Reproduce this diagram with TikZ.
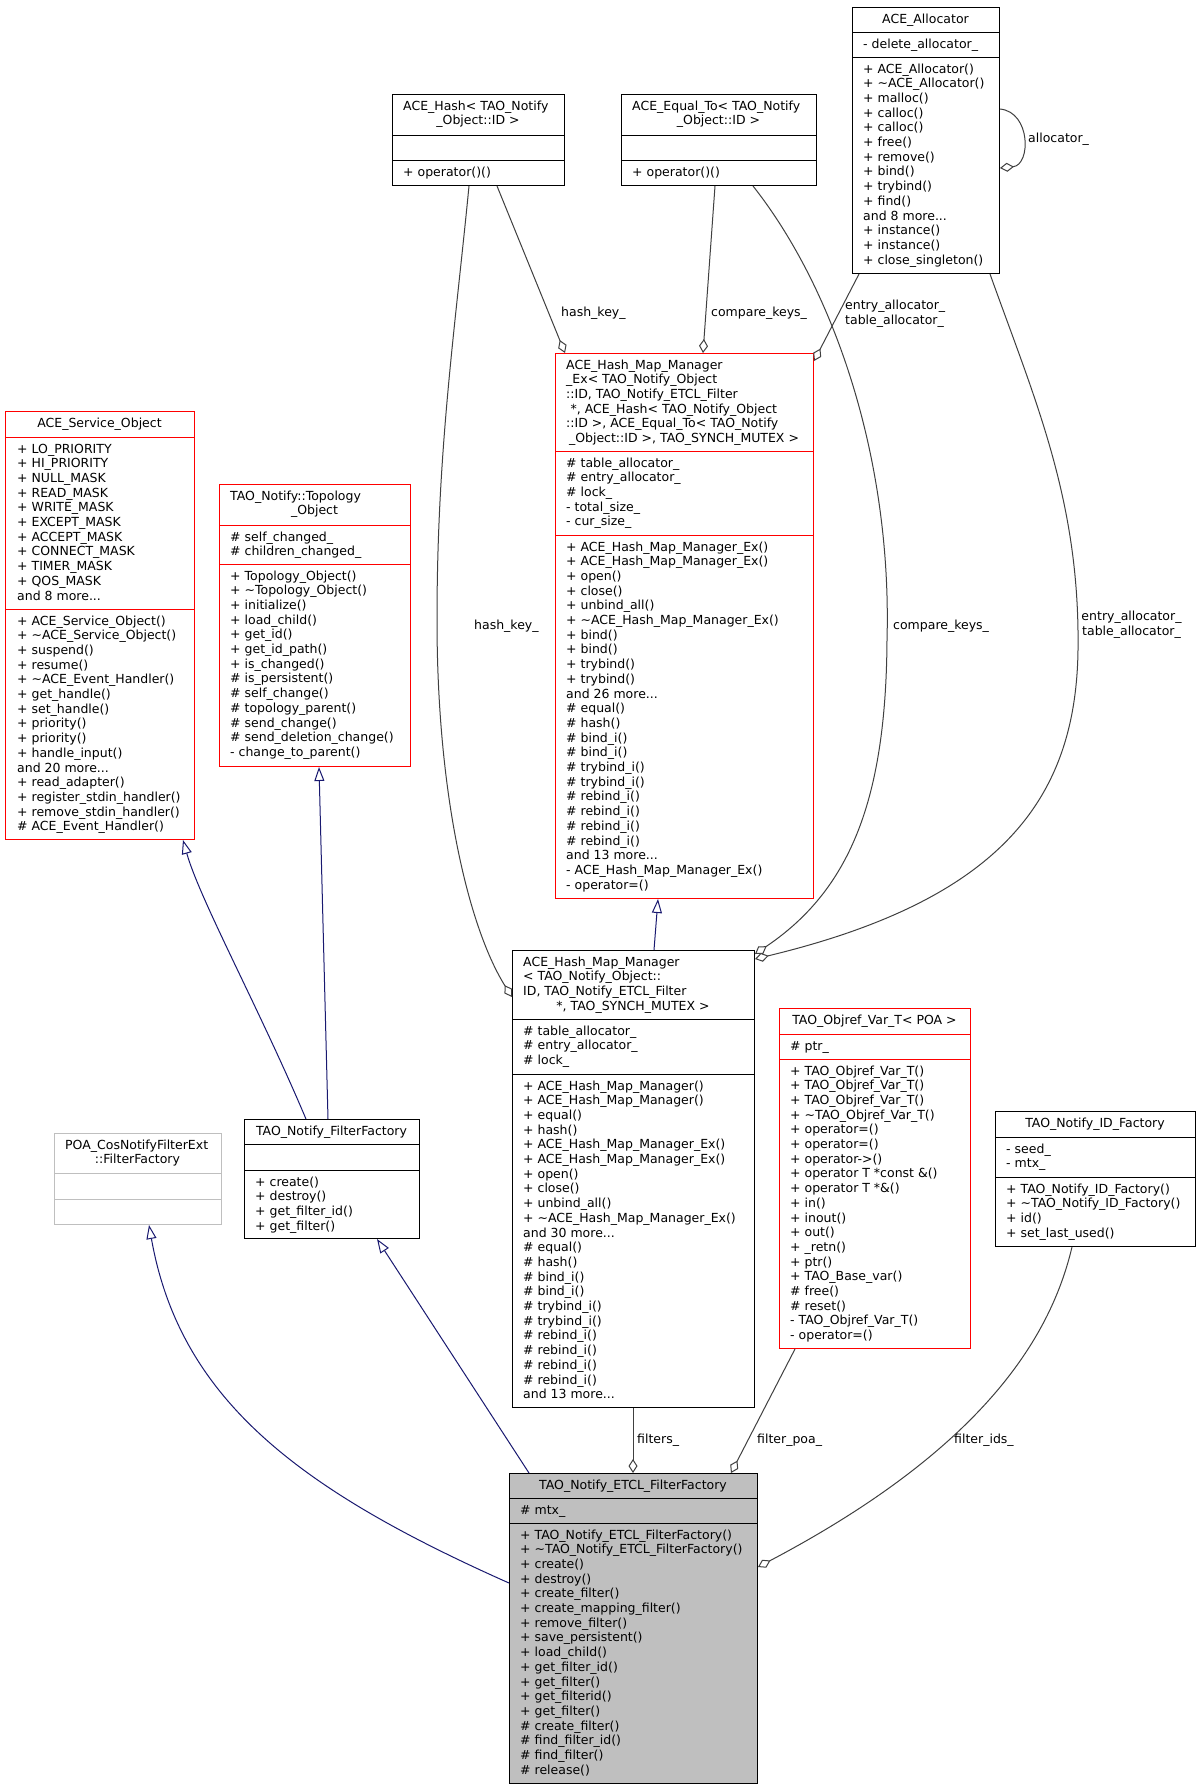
\documentclass[tikz,border=0pt]{standalone}
\usepackage{fontspec}
\setmainfont{DejaVu Sans}
\usetikzlibrary{arrows.meta}
\definecolor{edgegray}{HTML}{404040}
\definecolor{navyblue}{HTML}{191970}
\definecolor{boxred}{HTML}{FF0000}
\definecolor{greyfill}{HTML}{BFBFBF}
\newcommand\mdots{...}
\newcommand\clines[4]{\foreach \t [count=\i from 0] in {#4}{\node[txt,anchor=base west] (#1\i) at (#2,{#3+\i*14.7}) {\t};}}
\newcommand\usep[4]{\draw[line width=1pt,#4] (#1,#2) -- ++(#3,0);}
\begin{document}
\begin{tikzpicture}[x=1pt,y=-1pt,
  txt/.style={inner sep=0pt,font=\fontsize{12.5}{14.7}\selectfont},
  cbox/.style={draw,line width=1pt,inner sep=0pt,anchor=north west,fill=white},
  agg/.style={draw=edgegray,line width=1pt,-{Diamond[fill=white,length=14pt,width=9pt]}},
  inh/.style={draw=navyblue,line width=1pt,-{Triangle[fill=white,length=14pt,width=10pt]}}]
\fill[white] (0,0) rectangle (1200,1789);
\useasboundingbox (0,0) rectangle (1200,1789);

% ---------- ACE_Allocator
\node[cbox,draw=black,minimum width=147pt,minimum height=266pt] (alloc) at (852,7) {};
\usep{852}{32.5}{147}{black}\usep{852}{57.5}{147}{black}
\node[txt,anchor=base] (allocT) at (925.5,23) {ACE\_Allocator};
\clines{allocA}{863}{48}{- delete\_allocator\_}
\clines{allocM}{863}{73}{+ ACE\_Allocator(),+ \textasciitilde ACE\_Allocator(),+ malloc(),+ calloc(),+ calloc(),+ free(),+ remove(),+ bind(),+ trybind(),+ find(),and 8 more\mdots,+ instance(),+ instance(),+ close\_singleton()}

% ---------- ACE_Hash
\node[cbox,draw=black,minimum width=172pt,minimum height=91pt] (hash) at (392,94) {};
\usep{392}{135.5}{172}{black}\usep{392}{160.5}{172}{black}
\node[txt,anchor=base west] (hashT1) at (403,110) {ACE\_Hash< TAO\_Notify};
\node[txt,anchor=base] (hashT2) at (478,124.7) {\_Object::ID >};
\clines{hashM}{403}{176}{+ operator()()}

% ---------- ACE_Equal_To
\node[cbox,draw=black,minimum width=195pt,minimum height=91pt] (equal) at (621,94) {};
\usep{621}{135.5}{195}{black}\usep{621}{160.5}{195}{black}
\node[txt,anchor=base west] (equalT1) at (632,110) {ACE\_Equal\_To< TAO\_Notify};
\node[txt,anchor=base] (equalT2) at (718.5,124.7) {\_Object::ID >};
\clines{equalM}{632}{176}{+ operator()()}

% ---------- ACE_Hash_Map_Manager_Ex
\node[cbox,draw=boxred,minimum width=258pt,minimum height=545pt] (hmx) at (555,353) {};
\usep{555}{451.5}{258}{boxred}\usep{555}{535.5}{258}{boxred}
\clines{hmxT}{566}{369}{ACE\_Hash\_Map\_Manager,\_Ex< TAO\_Notify\_Object,{::ID, TAO\_Notify\_ETCL\_Filter},{\hspace*{4.5pt}*, ACE\_Hash< TAO\_Notify\_Object},{::ID >, ACE\_Equal\_To< TAO\_Notify}}
\node[txt,anchor=base] (hmxT5) at (684,442.5) {\_Object::ID >, TAO\_SYNCH\_MUTEX >};
\clines{hmxA}{566}{467}{\# table\_allocator\_,\# entry\_allocator\_,\# lock\_,- total\_size\_,- cur\_size\_}
\clines{hmxM}{566}{551}{+ ACE\_Hash\_Map\_Manager\_Ex(),+ ACE\_Hash\_Map\_Manager\_Ex(),+ open(),+ close(),+ unbind\_all(),+ \textasciitilde ACE\_Hash\_Map\_Manager\_Ex(),+ bind(),+ bind(),+ trybind(),+ trybind(),and 26 more\mdots,\# equal(),\# hash(),\# bind\_i(),\# bind\_i(),\# trybind\_i(),\# trybind\_i(),\# rebind\_i(),\# rebind\_i(),\# rebind\_i(),\# rebind\_i(),and 13 more\mdots,- ACE\_Hash\_Map\_Manager\_Ex(),- operator=()}

% ---------- ACE_Service_Object
\node[cbox,draw=boxred,minimum width=189pt,minimum height=428pt] (svc) at (5,411) {};
\usep{5}{437.5}{189}{boxred}\usep{5}{609.5}{189}{boxred}
\node[txt,anchor=base] (svcT) at (99.5,427) {ACE\_Service\_Object};
\clines{svcA}{17}{453}{+ LO\_PRIORITY,+ HI\_PRIORITY,+ NULL\_MASK,+ READ\_MASK,+ WRITE\_MASK,+ EXCEPT\_MASK,+ ACCEPT\_MASK,+ CONNECT\_MASK,+ TIMER\_MASK,+ QOS\_MASK,and 8 more\mdots}
\clines{svcM}{17}{625}{+ ACE\_Service\_Object(),+ \textasciitilde ACE\_Service\_Object(),+ suspend(),+ resume(),+ \textasciitilde ACE\_Event\_Handler(),+ get\_handle(),+ set\_handle(),+ priority(),+ priority(),+ handle\_input(),and 20 more\mdots,+ read\_adapter(),+ register\_stdin\_handler(),+ remove\_stdin\_handler(),\# ACE\_Event\_Handler()}

% ---------- TAO_Notify::Topology_Object
\node[cbox,draw=boxred,minimum width=191pt,minimum height=282pt] (topo) at (219,484) {};
\usep{219}{525.5}{191}{boxred}\usep{219}{564.5}{191}{boxred}
\node[txt,anchor=base west] (topoT1) at (230,500) {TAO\_Notify::Topology};
\node[txt,anchor=base] (topoT2) at (314.5,514.7) {\_Object};
\clines{topoA}{230}{541}{\# self\_changed\_,\# children\_changed\_}
\clines{topoM}{230}{580}{+ Topology\_Object(),+ \textasciitilde Topology\_Object(),+ initialize(),+ load\_child(),+ get\_id(),+ get\_id\_path(),+ is\_changed(),\# is\_persistent(),\# self\_change(),\# topology\_parent(),\# send\_change(),\# send\_deletion\_change(),- change\_to\_parent()}

% ---------- ACE_Hash_Map_Manager
\node[cbox,draw=black,minimum width=242pt,minimum height=457pt] (mgr) at (512,950) {};
\usep{512}{1019.5}{242}{black}\usep{512}{1074.5}{242}{black}
\clines{mgrT}{523}{966}{ACE\_Hash\_Map\_Manager,< TAO\_Notify\_Object::,{ID, TAO\_Notify\_ETCL\_Filter}}
\node[txt,anchor=base] (mgrT3) at (633,1010.1) {*, TAO\_SYNCH\_MUTEX >};
\clines{mgrA}{523}{1035}{\# table\_allocator\_,\# entry\_allocator\_,\# lock\_}
\clines{mgrM}{523}{1090}{+ ACE\_Hash\_Map\_Manager(),+ ACE\_Hash\_Map\_Manager(),+ equal(),+ hash(),+ ACE\_Hash\_Map\_Manager\_Ex(),+ ACE\_Hash\_Map\_Manager\_Ex(),+ open(),+ close(),+ unbind\_all(),+ \textasciitilde ACE\_Hash\_Map\_Manager\_Ex(),and 30 more\mdots,\# equal(),\# hash(),\# bind\_i(),\# bind\_i(),\# trybind\_i(),\# trybind\_i(),\# rebind\_i(),\# rebind\_i(),\# rebind\_i(),\# rebind\_i(),and 13 more\mdots}

% ---------- TAO_Objref_Var_T< POA >
\node[cbox,draw=boxred,minimum width=191pt,minimum height=340pt] (objref) at (779,1008) {};
\usep{779}{1034.5}{191}{boxred}\usep{779}{1059.5}{191}{boxred}
\node[txt,anchor=base] (objrefT) at (874.5,1024) {TAO\_Objref\_Var\_T< POA >};
\clines{objrefA}{790}{1050}{\# ptr\_}
\clines{objrefM}{790}{1075}{+ TAO\_Objref\_Var\_T(),+ TAO\_Objref\_Var\_T(),+ TAO\_Objref\_Var\_T(),+ \textasciitilde TAO\_Objref\_Var\_T(),+ operator=(),+ operator=(),+ operator->(),+ operator T *const \&(),+ operator T *\&(),+ in(),+ inout(),+ out(),+ \_retn(),+ ptr(),+ TAO\_Base\_var(),\# free(),\# reset(),- TAO\_Objref\_Var\_T(),- operator=()}

% ---------- TAO_Notify_ID_Factory
\node[cbox,draw=black,minimum width=200pt,minimum height=135pt] (idf) at (995,1111) {};
\usep{995}{1137.5}{200}{black}\usep{995}{1177.5}{200}{black}
\node[txt,anchor=base] (idfT) at (1095,1127) {TAO\_Notify\_ID\_Factory};
\clines{idfA}{1006}{1153}{- seed\_,- mtx\_}
\clines{idfM}{1006}{1193}{+ TAO\_Notify\_ID\_Factory(),+ \textasciitilde TAO\_Notify\_ID\_Factory(),+ id(),+ set\_last\_used()}

% ---------- TAO_Notify_FilterFactory
\node[cbox,draw=black,minimum width=175pt,minimum height=119pt] (ff) at (244,1119) {};
\usep{244}{1144.5}{175}{black}\usep{244}{1170.5}{175}{black}
\node[txt,anchor=base] (ffT) at (331.5,1135) {TAO\_Notify\_FilterFactory};
\clines{ffM}{255}{1186}{+ create(),+ destroy(),+ get\_filter\_id(),+ get\_filter()}

% ---------- POA_CosNotifyFilterExt::FilterFactory
\node[cbox,draw=greyfill,minimum width=167pt,minimum height=91pt] (poa) at (54,1133) {};
\usep{54}{1173.5}{167}{greyfill}\usep{54}{1199.5}{167}{greyfill}
\node[txt,anchor=base west] (poaT1) at (65,1149) {POA\_CosNotifyFilterExt};
\node[txt,anchor=base] (poaT2) at (137.5,1163.7) {::FilterFactory};

% ---------- TAO_Notify_ETCL_FilterFactory
\node[cbox,draw=black,fill=greyfill,minimum width=248pt,minimum height=310pt] (etcl) at (509,1473) {};
\usep{509}{1498.5}{248}{black}\usep{509}{1523.5}{248}{black}
\node[txt,anchor=base] (etclT) at (633,1489) {TAO\_Notify\_ETCL\_FilterFactory};
\clines{etclA}{520}{1514}{\# mtx\_}
\clines{etclM}{520}{1539}{+ TAO\_Notify\_ETCL\_FilterFactory(),+ \textasciitilde TAO\_Notify\_ETCL\_FilterFactory(),+ create(),+ destroy(),+ create\_filter(),+ create\_mapping\_filter(),+ remove\_filter(),+ save\_persistent(),+ load\_child(),+ get\_filter\_id(),+ get\_filter(),+ get\_filterid(),+ get\_filter(),\# create\_filter(),\# find\_filter\_id(),\# find\_filter(),\# release()}

% ---------- aggregation edges
\draw[agg] ([xshift=105pt]hash.south west) -- ([xshift=10pt]hmx.north west);
\draw[agg] ([xshift=94pt]equal.south west) -- ([xshift=148pt]hmx.north west);
\draw[agg] ([xshift=7pt]alloc.south west) -- ([yshift=-8pt]hmx.north east);
\draw[agg] ([xshift=77pt]hash.south west) .. controls (455,330) and (437,450) .. (437,620) .. controls (437,800) and (470,930) .. ([yshift=-47pt]mgr.north west);
\draw[agg] ([xshift=132pt]equal.south west) .. controls (835,290) and (892,460) .. (887,640) .. controls (886,800) and (850,890) .. ([yshift=-4pt]mgr.north east);
\draw[agg] ([xshift=138pt]alloc.south west) .. controls (1035,400) and (1080,500) .. (1078,650) .. controls (1076,800) and (1000,900) .. ([yshift=-9pt]mgr.north east);
\draw[agg] ([yshift=-102pt]alloc.north east) .. controls (1031,112) and (1031,165) .. ([yshift=-161pt]alloc.north east);
\draw[agg] ([xshift=121pt]mgr.south west) -- ([xshift=124pt]etcl.north west);
\draw[agg] ([xshift=16pt]objref.south west) -- ([xshift=222pt]etcl.north west);
\draw[agg] ([xshift=77pt]idf.south west) .. controls (1050,1340) and (980,1450) .. ([yshift=-94pt]etcl.north east);

% ---------- inheritance edges
\draw[inh] ([xshift=62pt]ff.north west) .. controls (260,1010) and (200,900) .. ([xshift=178pt]svc.south west);
\draw[inh] ([xshift=84pt]ff.north west) -- ([xshift=100pt]topo.south west);
\draw[inh] ([xshift=142pt]mgr.north west) -- ([xshift=103pt]hmx.south west);
\draw[inh] ([yshift=-110pt]etcl.north west) .. controls (300,1490) and (180,1400) .. ([xshift=95pt]poa.south west);
\draw[inh] ([xshift=20pt]etcl.north west) -- ([xshift=133pt]ff.south west);

% ---------- edge labels
\node[txt,anchor=base west] (lhk1) at (561,316.5) {hash\_key\_};
\node[txt,anchor=base west] (lck1) at (711,316.5) {compare\_keys\_};
\node[txt,anchor=base west] (lea1) at (845,309.5) {entry\_allocator\_};
\node[txt,anchor=base west] (lta1) at (845,324.2) {table\_allocator\_};
\node[txt,anchor=base west] (lhk2) at (474,629) {hash\_key\_};
\node[txt,anchor=base west] (lck2) at (893,629) {compare\_keys\_};
\node[txt,anchor=base] (lea2) at (1131.5,620.5) {entry\_allocator\_};
\node[txt,anchor=base] (lta2) at (1131.5,635.2) {table\_allocator\_};
\node[txt,anchor=base west] (lal) at (1028,142.5) {allocator\_};
\node[txt,anchor=base west] (lfi) at (637,1443) {filters\_};
\node[txt,anchor=base west] (lfp) at (757,1443) {filter\_poa\_};
\node[txt,anchor=base west] (lfid) at (954,1443) {filter\_ids\_};
\end{tikzpicture}
\end{document}
